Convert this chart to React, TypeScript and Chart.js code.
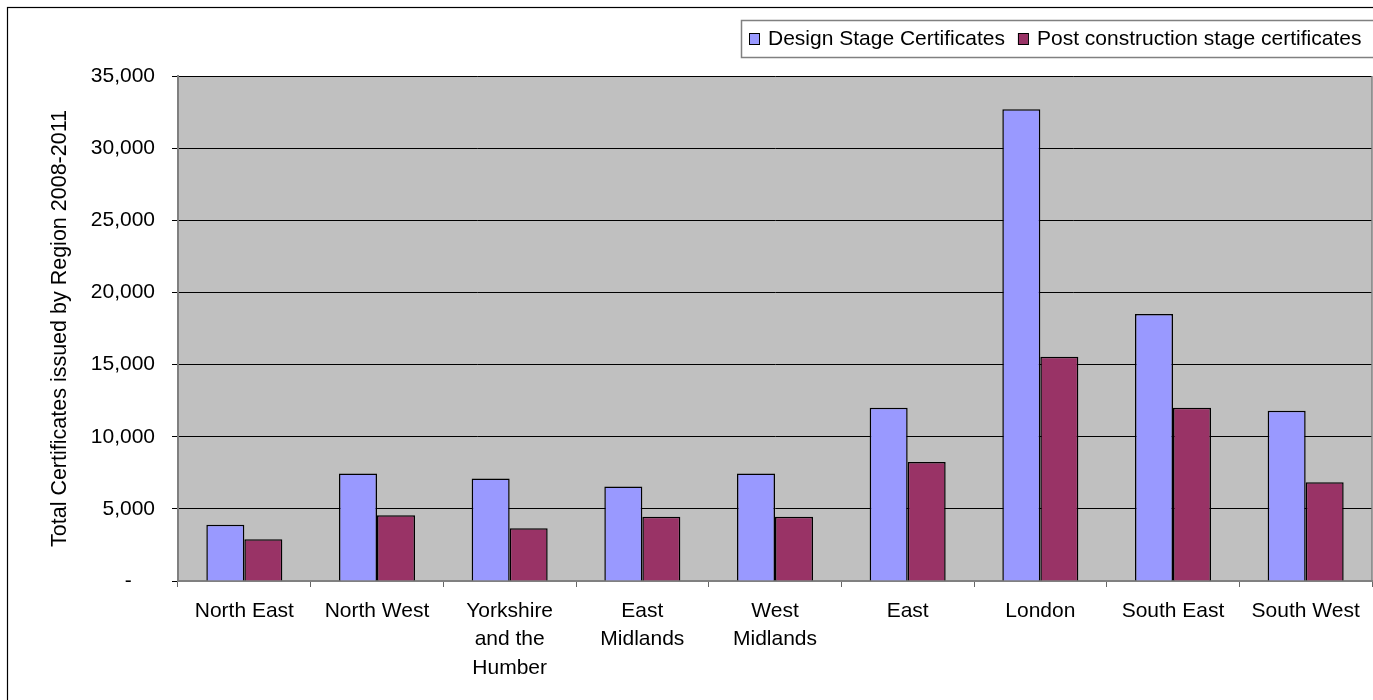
import React, { useEffect, useRef } from 'react';
import { Chart, registerables } from 'chart.js';

Chart.register(...registerables);

const categories: (string | string[])[] = [
  'North East',
  'North West',
  ['Yorkshire', 'and the', 'Humber'],
  ['East', 'Midlands'],
  ['West', 'Midlands'],
  'East',
  'London',
  'South East',
  'South West',
];

const designStage = [3900, 7450, 7100, 6550, 7450, 12000, 32700, 18500, 11800];
const postConstruction = [2900, 4550, 3650, 4450, 4450, 8250, 15550, 12000, 6850];

const seriesNames = ['Design Stage Certificates', 'Post construction stage certificates'];
const yAxisTitle = 'Total Certificates issued by Region 2008-2011';
const yMin = 0;
const yMax = 35000;
const yStep = 5000;

const FONT = '"Liberation Sans", Arial, sans-serif';

const framePlugin = {
  id: 'frameAndBg',
  beforeDraw(chart: any) {
    const { ctx, chartArea } = chart;
    ctx.save();
    ctx.fillStyle = '#ffffff';
    ctx.fillRect(0, 0, chart.width, chart.height);
    ctx.fillStyle = '#C0C0C0';
    ctx.fillRect(chartArea.left, chartArea.top, chartArea.right - chartArea.left, chartArea.bottom - chartArea.top);
    ctx.strokeStyle = '#000000';
    ctx.lineWidth = 1.2;
    ctx.strokeRect(7.5, 7.5, 3000, 3000);
    ctx.restore();
  },
  afterDraw(chart: any) {
    const { ctx, chartArea } = chart;
    ctx.save();
    ctx.strokeStyle = '#808080';
    ctx.lineWidth = 1.5;
    ctx.beginPath();
    ctx.moveTo(chartArea.right, chartArea.top);
    ctx.lineTo(chartArea.right, chartArea.bottom);
    ctx.stroke();

    ctx.font = `21px ${FONT}`;
    const left = 741;
    const top = 20;
    const bottom = 57;
    ctx.fillStyle = '#ffffff';
    ctx.fillRect(left, top, 1000, bottom - top);
    ctx.strokeStyle = '#808080';
    ctx.lineWidth = 1.5;
    ctx.strokeRect(left + 0.5, top + 0.5, 1000, bottom - top);
    let x = 749;
    const cy = 38.5;
    chart.data.datasets.forEach((ds: any) => {
      ctx.fillStyle = ds.backgroundColor;
      ctx.fillRect(x, cy - 5.5, 10, 11);
      ctx.strokeStyle = '#000000';
      ctx.lineWidth = 1;
      ctx.strokeRect(x + 0.5, cy - 5.5 + 0.5, 10, 11);
      ctx.fillStyle = '#000000';
      ctx.textBaseline = 'middle';
      ctx.textAlign = 'left';
      ctx.fillText(ds.label, x + 19, cy + 1);
      x += 19 + ctx.measureText(ds.label).width + 13;
    });
    ctx.restore();
  },
};

export default function App() {
  const canvasRef = useRef<HTMLCanvasElement | null>(null);

  useEffect(() => {
    if (!canvasRef.current) return;
    Chart.defaults.font.family = FONT;
    Chart.defaults.color = '#000000';
    const chart = new Chart(canvasRef.current, {
      type: 'bar',
      data: {
        labels: categories,
        datasets: [
          {
            label: seriesNames[0],
            data: designStage,
            backgroundColor: '#9999FF',
            borderColor: '#000000',
            borderWidth: 1.5,
            categoryPercentage: 0.573,
            barPercentage: 1.0,
          },
          {
            label: seriesNames[1],
            data: postConstruction,
            backgroundColor: '#993366',
            borderColor: '#000000',
            borderWidth: 1.5,
            categoryPercentage: 0.573,
            barPercentage: 1.0,
          },
        ],
      },
      options: {
        responsive: false,
        animation: false,
        devicePixelRatio: 1,
        layout: { padding: { top: 76, right: 28, bottom: 0, left: 0 } },
        plugins: {
          legend: { display: false },
          tooltip: { enabled: false },
        },
        scales: {
          x: {
            grid: {
              display: true,
              drawOnChartArea: false,
              drawTicks: true,
              tickLength: 6,
              color: '#666666',
              offset: true,
            },
            border: { display: true, color: '#808080', width: 2 },
            ticks: {
              font: { size: 21, family: FONT, lineHeight: 1.35 },
              color: '#000000',
              padding: 10,
              maxRotation: 0,
              autoSkip: false,
            },
            afterFit: (scale: any) => {
              scale.height = 700 - 581;
            },
          },
          y: {
            min: yMin,
            max: yMax,
            grid: {
              color: '#000000',
              lineWidth: 1,
              drawTicks: true,
              tickLength: 6,
            },
            border: { display: true, color: '#808080', width: 2 },
            ticks: {
              stepSize: yStep,
              font: { size: 21, family: FONT },
              color: '#000000',
              padding: 17,
              callback: (v: any) => (Number(v) === 0 ? '-    ' : Number(v).toLocaleString('en-US')),
            },
            title: {
              display: true,
              text: yAxisTitle,
              font: { size: 21.5, family: FONT },
              color: '#000000',
              padding: { top: 47, bottom: 0 },
            },
            afterFit: (scale: any) => {
              scale.width = 178;
            },
          },
        },
      },
      plugins: [framePlugin],
    });
    return () => chart.destroy();
  }, []);

  return (
    <div style={{ position: 'fixed', left: 0, top: 0, width: 1400, height: 700, background: '#fff' }}>
      <canvas ref={canvasRef} width={1400} height={700} style={{ width: 1400, height: 700, display: 'block' }} />
    </div>
  );
}
